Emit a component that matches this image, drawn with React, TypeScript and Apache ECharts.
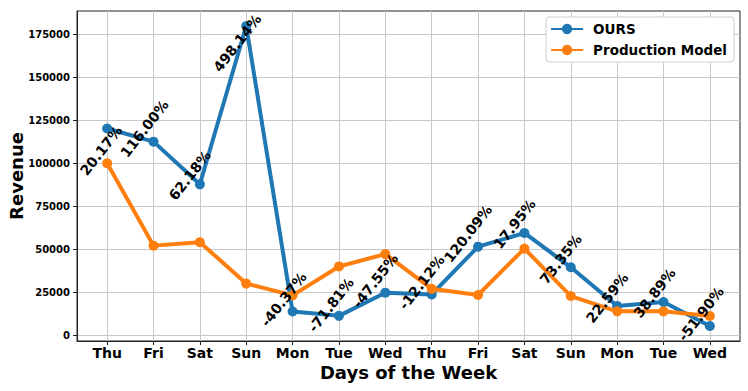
import React, { useEffect, useRef } from "react";
import * as echarts from "echarts";

// ---- data ----
const days = ["Thu", "Fri", "Sat", "Sun", "Mon", "Tue", "Wed", "Thu", "Fri", "Sat", "Sun", "Mon", "Tue", "Wed"];
const oursRevenue = [120170, 112540, 87740, 179740, 13830, 11280, 24760, 23730, 51500, 59450, 39520, 17040, 19310, 5390];
const productionRevenue = [100000, 52100, 54100, 30050, 23200, 40000, 47200, 27000, 23400, 50400, 22800, 13900, 13900, 11200];
const changeLabels = ["20.17%", "116.00%", "62.18%", "498.14%", "-40.37%", "-71.81%", "-47.55%", "-12.12%", "120.09%", "17.95%", "73.35%", "22.59%", "38.89%", "-51.90%"];
const yTickValues = [0, 25000, 50000, 75000, 100000, 125000, 150000, 175000];

// ---- layout / style (pixel shifts of the rotated change labels) ----
const labelShift: [number, number][] = [
  [-6, 22], [-9, -13], [-10, -9], [-9, 17], [-9, -12], [-8, -11], [-10, -12],
  [-10, -12], [-10, -13], [-10, -9], [-10, -8], [-10, -8], [-9, -9], [-9, -12],
];
const LABEL_ANGLE = (52 * Math.PI) / 180;

const FONT = '"DejaVu Sans", "Liberation Sans", sans-serif';
const BLUE = "#1f77b4";
const ORANGE = "#ff7f0e";

export default function App() {
  const ref = useRef<HTMLDivElement>(null);

  useEffect(() => {
    if (!ref.current) return;
    const chart = echarts.init(ref.current, null, { renderer: "svg" });

    const all = oursRevenue.concat(productionRevenue);
    const lo = Math.min(...all);
    const hi = Math.max(...all);
    const span = hi - lo;
    const yMin = lo - 0.05 * span;
    const yMax = hi + 0.05 * span;
    const n = days.length;
    const xMargin = 0.05 * (n - 1);
    const xIdx = days.map((_, i) => i);

    const option: any = {
      animation: false,
      backgroundColor: "#ffffff",
      textStyle: { fontFamily: FONT },
      grid: {
        left: 77,
        top: 11,
        right: 8,
        bottom: 50,
        containLabel: false,
        outerBoundsMode: "none",
        show: true,
        borderColor: "#222",
        borderWidth: 1,
        backgroundColor: "transparent",
      },
      legend: {
        right: 14,
        top: 17,
        orient: "vertical",
        backgroundColor: "#ffffff",
        borderColor: "#d0d0d0",
        borderWidth: 1,
        borderRadius: 3,
        padding: [5, 7, 5, 4],
        itemGap: 7,
        itemWidth: 32,
        itemHeight: 13,
        textStyle: {
          fontFamily: FONT,
          fontWeight: "bold",
          fontSize: 13.5,
          color: "#000",
          padding: [0, 0, 0, 5],
        },
        data: ["OURS", "Production Model"],
      },
      xAxis: {
        type: "value",
        min: -xMargin,
        max: n - 1 + xMargin,
        name: "Days of the Week",
        nameLocation: "middle",
        nameGap: 22,
        nameMoveOverlap: false,
        nameTextStyle: { fontFamily: FONT, fontWeight: "bold", fontSize: 18, color: "#000" },
        axisLine: { show: true, onZero: false, lineStyle: { color: "#222", width: 1 } },
        axisTick: { show: true, length: 4, customValues: xIdx, lineStyle: { color: "#222" } },
        axisLabel: {
          customValues: xIdx,
          margin: 5,
          fontFamily: FONT,
          fontWeight: "bold",
          fontSize: 14,
          color: "#000",
          formatter: (v: number) => days[Math.round(v)] ?? "",
        },
        splitLine: { show: true, lineStyle: { color: "#c8c8c8", width: 1 } },
      },
      yAxis: {
        type: "value",
        min: yMin,
        max: yMax,
        name: "Revenue",
        nameLocation: "middle",
        nameGap: 52,
        nameRotate: 90,
        nameMoveOverlap: false,
        nameTextStyle: { fontFamily: FONT, fontWeight: "bold", fontSize: 18, color: "#000" },
        axisLine: { show: true, onZero: false, lineStyle: { color: "#222", width: 1 } },
        axisTick: { show: true, length: 4, customValues: yTickValues, lineStyle: { color: "#222" } },
        axisLabel: {
          customValues: yTickValues,
          margin: 7,
          fontFamily: FONT,
          fontWeight: "bold",
          fontSize: 10,
          color: "#000",
          formatter: (v: number) => String(Math.round(v)),
        },
        splitLine: { show: true, lineStyle: { color: "#c8c8c8", width: 1 } },
      },
      series: [
        {
          name: "OURS",
          type: "line",
          data: oursRevenue.map((v, i) => [i, v]),
          symbol: "circle",
          symbolSize: 10,
          lineStyle: { color: BLUE, width: 4 },
          itemStyle: { color: BLUE },
          z: 3,
        },
        {
          name: "Production Model",
          type: "line",
          data: productionRevenue.map((v, i) => [i, v]),
          symbol: "circle",
          symbolSize: 10,
          lineStyle: { color: ORANGE, width: 4 },
          itemStyle: { color: ORANGE },
          z: 4,
        },
      ],
    };

    chart.setOption(option);

    const graphics = changeLabels.map((t, i) => {
      const p = chart.convertToPixel({ gridIndex: 0 } as any, [i, oursRevenue[i]]) as number[];
      const [dx, dy] = labelShift[i];
      return {
        type: "text",
        x: p[0] + dx,
        y: p[1] + dy,
        rotation: LABEL_ANGLE,
        z: 100,
        style: {
          text: t,
          fontFamily: FONT,
          fontWeight: "bold",
          fontSize: 14,
          fill: "#000",
          align: "center",
          verticalAlign: "middle",
        },
      };
    });
    chart.setOption({ graphic: graphics });

    return () => chart.dispose();
  }, []);

  return (
    <div
      ref={ref}
      style={{ position: "absolute", left: 0, top: 0, width: 748, height: 391, background: "#fff" }}
    />
  );
}
